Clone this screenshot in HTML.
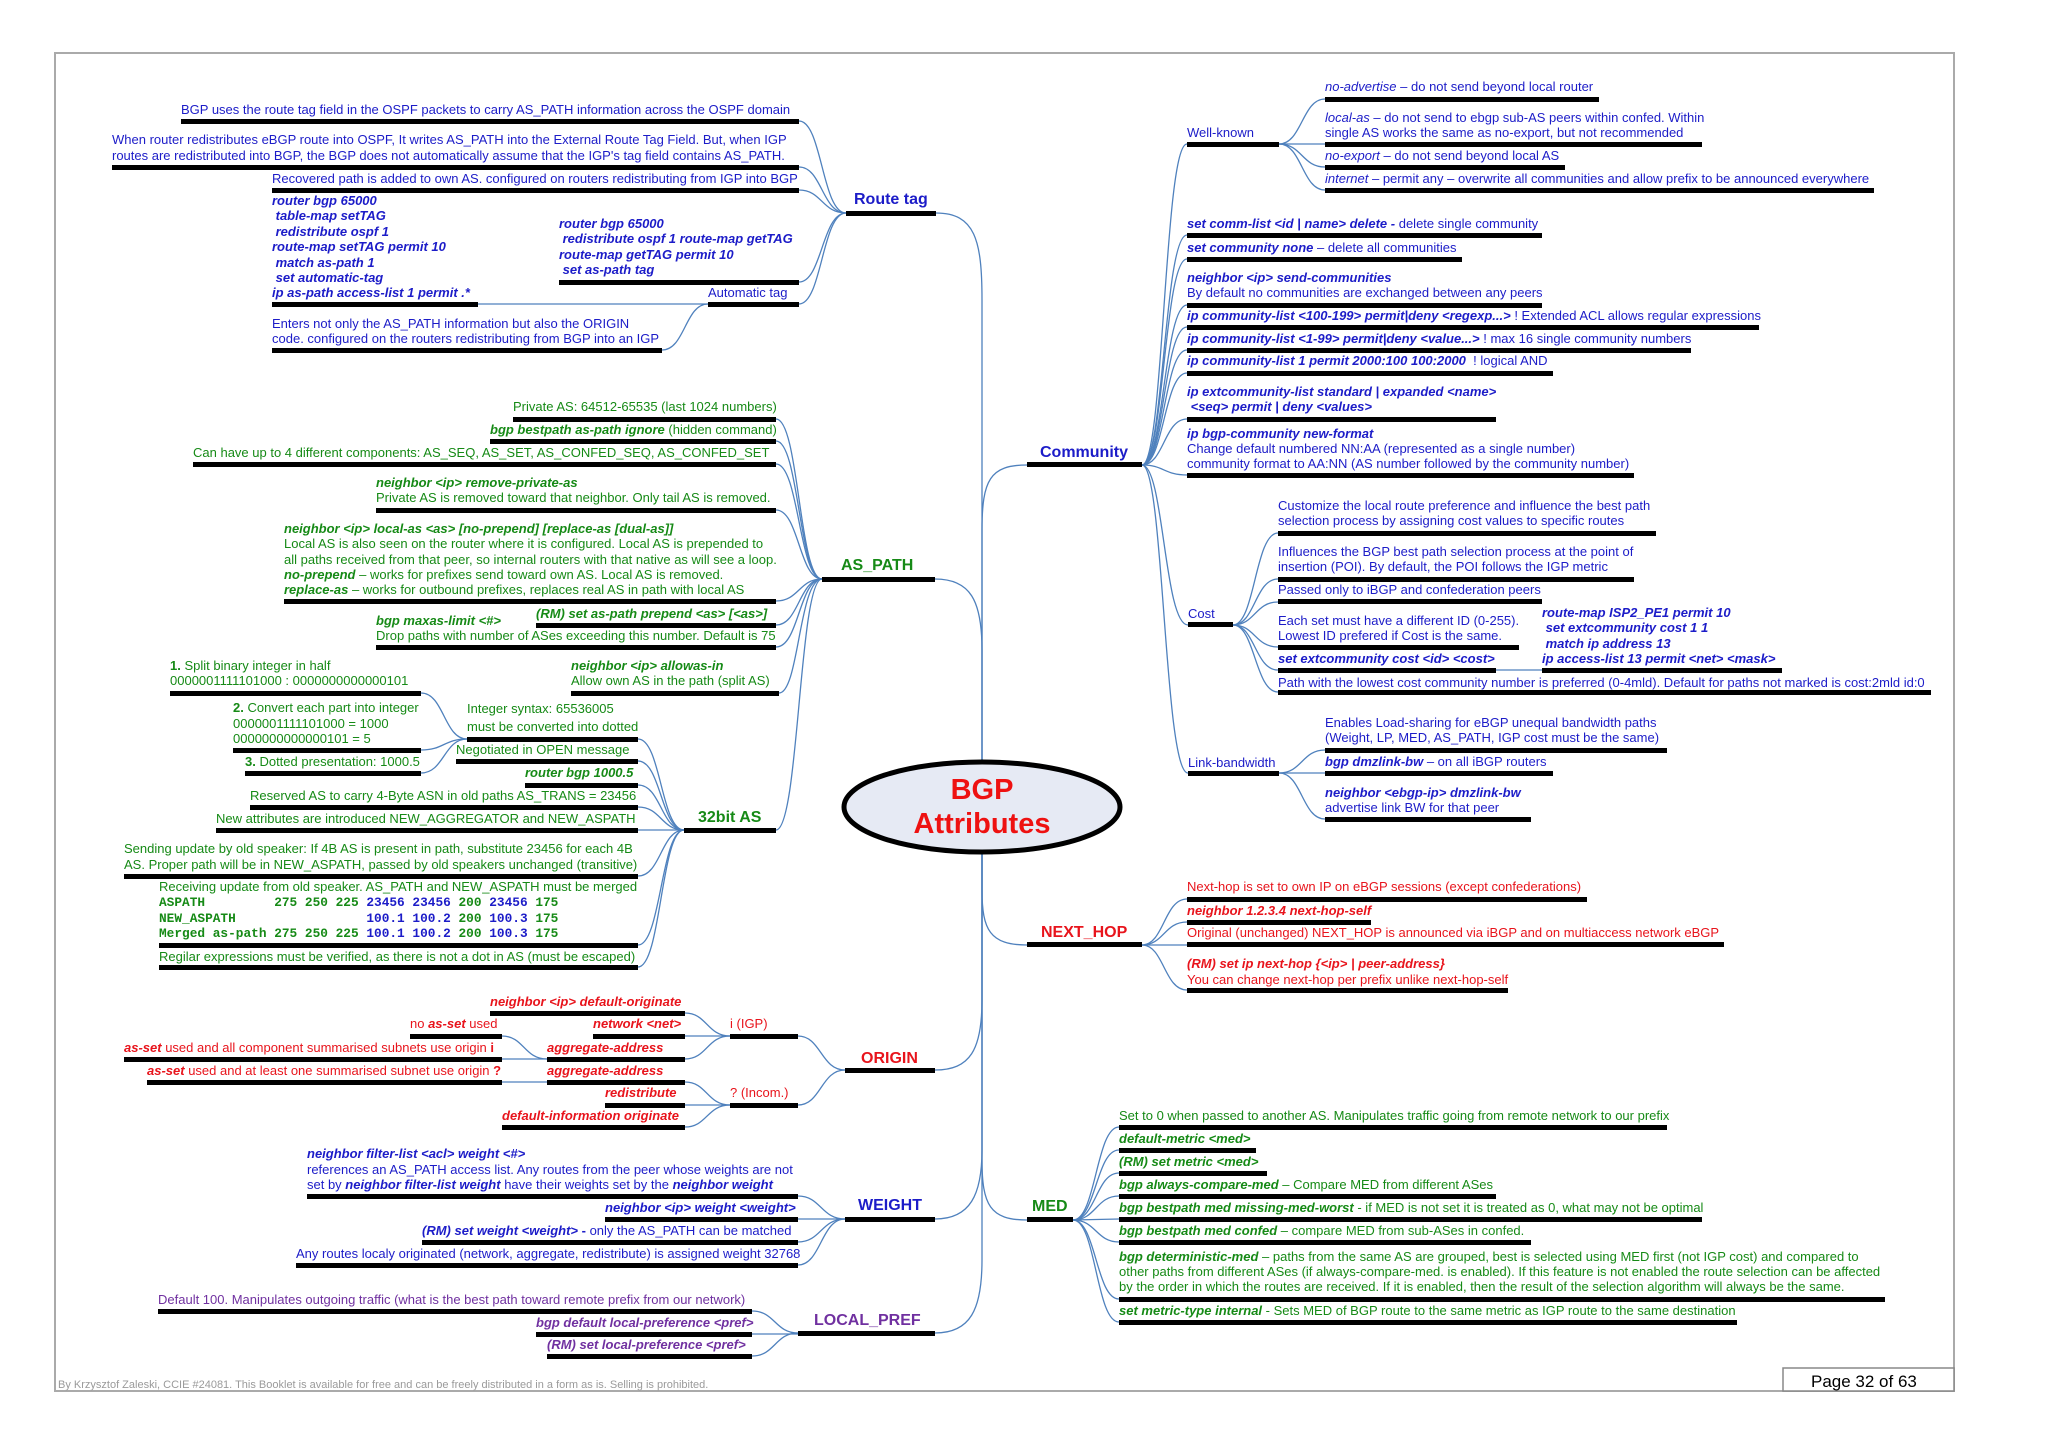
<!DOCTYPE html>
<html><head><meta charset="utf-8"><style>
html,body{margin:0;padding:0;background:#fff;}
svg{display:block;}
text{font-family:"Liberation Sans",Arial,sans-serif;font-size:13px;white-space:pre;}
.b{fill:#1c1cc8}.g{fill:#168a16}.r{fill:#e8141c}.p{fill:#7030a0}
.bi{font-weight:bold;font-style:italic}
.h{font-weight:bold;font-size:16px}
.m{font-family:"Liberation Mono",monospace;font-size:12.8px;font-weight:bold}
path{fill:none;stroke:#4f81bd;stroke-width:1.3}
rect.k{fill:#000}
</style></head><body>
<svg width="2048" height="1447" viewBox="0 0 2048 1447" xmlns="http://www.w3.org/2000/svg" xml:space="preserve">
<rect x="55" y="53" width="1899" height="1338" fill="none" stroke="#aaa" stroke-width="2"/>

<!-- trunk -->
<path d="M936 213 C975 213 982 240 982 300 L982 761"/>
<path d="M935 579 C970 579 982 600 982 650 L982 761"/>
<path d="M982 761 L982 530 C982 480 990 465 1027 465"/>
<path d="M982 853 L982 890 C982 930 990 945 1027 945"/>
<path d="M982 853 L982 1160 C982 1205 990 1220 1027 1220"/>
<path d="M935 1070 C970 1070 982 1050 982 1000 L982 853"/>
<path d="M935 1219 C970 1219 982 1195 982 1150 L982 853"/>
<path d="M935 1333 C970 1333 982 1310 982 1260 L982 853"/>

<ellipse cx="982" cy="807" rx="138" ry="45" fill="#e6eaf4" stroke="#000" stroke-width="5"/>
<text x="982" y="799" text-anchor="middle" style="font-size:29px;font-weight:bold;fill:#ee1111">BGP</text>
<text x="982" y="833" text-anchor="middle" style="font-size:29px;font-weight:bold;fill:#ee1111">Attributes</text>

<!-- ROUTE TAG -->
<g class="b">
<text x="181" y="114" class="b">BGP uses the route tag field in the OSPF packets to carry AS_PATH information across the OSPF domain</text>
<text x="112" y="144" class="b">When router redistributes eBGP route into OSPF, It writes AS_PATH into the External Route Tag Field. But, when IGP</text>
<text x="112" y="160" class="b">routes are redistributed into BGP, the BGP does not automatically assume that the IGP's tag field contains AS_PATH.</text>
<text x="272" y="183" class="b">Recovered path is added to own AS. configured on routers redistributing from IGP into BGP</text>
<text x="272" y="205" class="b bi">router bgp 65000</text>
<text x="272" y="220" class="b bi"> table-map setTAG</text>
<text x="272" y="236" class="b bi"> redistribute ospf 1</text>
<text x="272" y="251" class="b bi">route-map setTAG permit 10</text>
<text x="272" y="267" class="b bi"> match as-path 1</text>
<text x="272" y="282" class="b bi"> set automatic-tag</text>
<text x="272" y="297" class="b bi">ip as-path access-list 1 permit .*</text>
<text x="559" y="228" class="b bi">router bgp 65000</text>
<text x="559" y="243" class="b bi"> redistribute ospf 1 route-map getTAG</text>
<text x="559" y="259" class="b bi">route-map getTAG permit 10</text>
<text x="559" y="274" class="b bi"> set as-path tag</text>
<text x="708" y="297" class="b">Automatic tag</text>
<text x="272" y="328" class="b">Enters not only the AS_PATH information but also the ORIGIN</text>
<text x="272" y="343" class="b">code. configured on the routers redistributing from BGP into an IGP</text>
<text x="854" y="204" class="b h">Route tag</text>
</g>
<rect class="k" x="181" y="119" width="618" height="5"/>
<rect class="k" x="112" y="165" width="687" height="5"/>
<rect class="k" x="272" y="188" width="527" height="5"/>
<rect class="k" x="272" y="302" width="206" height="5"/>
<rect class="k" x="559" y="280" width="240" height="5"/>
<rect class="k" x="708" y="302" width="91" height="5"/>
<rect class="k" x="272" y="348" width="390" height="5"/>
<rect class="k" x="846" y="211" width="90" height="5"/>
<path d="M478 304 L708 304"/>
<path d="M662 350 C685 350 685 304 708 304"/>
<path d="M799 121 C822 121 822 213 846 213"/>
<path d="M799 167 C822 167 822 213 846 213"/>
<path d="M799 190 C822 190 822 213 846 213"/>
<path d="M799 282 C822 282 822 213 846 213"/>
<path d="M799 304 C822 304 822 213 846 213"/>

<!-- AS_PATH -->
<text x="513" y="411" class="g">Private AS: 64512-65535 (last 1024 numbers)</text>
<text x="490" y="434" class="g"><tspan class="bi">bgp bestpath as-path ignore</tspan> (hidden command)</text>
<text x="193" y="457" class="g">Can have up to 4 different components: AS_SEQ, AS_SET, AS_CONFED_SEQ, AS_CONFED_SET</text>
<text x="376" y="487" class="g bi">neighbor &lt;ip&gt; remove-private-as</text>
<text x="376" y="502" class="g">Private AS is removed toward that neighbor. Only tail AS is removed.</text>
<text x="284" y="533" class="g bi">neighbor &lt;ip&gt; local-as &lt;as&gt; [no-prepend] [replace-as [dual-as]]</text>
<text x="284" y="548" class="g">Local AS is also seen on the router where it is configured. Local AS is prepended to</text>
<text x="284" y="564" class="g">all paths received from that peer, so internal routers with that native as will see a loop.</text>
<text x="284" y="579" class="g"><tspan class="bi">no-prepend</tspan> – works for prefixes send toward own AS. Local AS is removed.</text>
<text x="284" y="594" class="g"><tspan class="bi">replace-as</tspan> – works for outbound prefixes, replaces real AS in path with local AS</text>
<text x="536" y="618" class="g bi">(RM) set as-path prepend &lt;as&gt; [&lt;as&gt;]</text>
<text x="376" y="625" class="g bi">bgp maxas-limit &lt;#&gt;</text>
<text x="376" y="640" class="g">Drop paths with number of ASes exceeding this number. Default is 75</text>
<text x="571" y="670" class="g bi">neighbor &lt;ip&gt; allowas-in</text>
<text x="571" y="685" class="g">Allow own AS in the path (split AS)</text>
<text x="841" y="570" class="g h">AS_PATH</text>
<rect class="k" x="513" y="417" width="263" height="5"/>
<rect class="k" x="490" y="439" width="286" height="5"/>
<rect class="k" x="193" y="462" width="583" height="5"/>
<rect class="k" x="376" y="508" width="400" height="5"/>
<rect class="k" x="284" y="599" width="492" height="5"/>
<rect class="k" x="536" y="623" width="240" height="5"/>
<rect class="k" x="376" y="645" width="400" height="5"/>
<rect class="k" x="571" y="691" width="208" height="5"/>
<rect class="k" x="822" y="577" width="113" height="5"/>
<path d="M776 419 C799 419 799 579 822 579"/>
<path d="M776 441 C799 441 799 579 822 579"/>
<path d="M776 464 C799 464 799 579 822 579"/>
<path d="M776 510 C799 510 799 579 822 579"/>
<path d="M776 601 C799 601 799 579 822 579"/>
<path d="M776 625 C799 625 799 579 822 579"/>
<path d="M776 647 C799 647 799 579 822 579"/>
<path d="M779 693 C799 693 799 579 822 579"/>
<path d="M776 830 C799 830 799 579 822 579"/>

<!-- 32bit AS -->
<text x="170" y="670" class="g"><tspan font-weight="bold">1.</tspan> Split binary integer in half</text>
<text x="170" y="685" class="g">0000001111101000 : 0000000000000101</text>
<text x="233" y="712" class="g"><tspan font-weight="bold">2.</tspan> Convert each part into integer</text>
<text x="233" y="728" class="g">0000001111101000 = 1000</text>
<text x="233" y="743" class="g">0000000000000101 = 5</text>
<text x="245" y="766" class="g"><tspan font-weight="bold">3.</tspan> Dotted presentation: 1000.5</text>
<text x="467" y="713" class="g">Integer syntax: 65536005</text>
<text x="467" y="731" class="g">must be converted into dotted</text>
<text x="456" y="754" class="g">Negotiated in OPEN message</text>
<text x="525" y="777" class="g bi">router bgp 1000.5</text>
<text x="250" y="800" class="g">Reserved AS to carry 4-Byte ASN in old paths AS_TRANS = 23456</text>
<text x="216" y="823" class="g">New attributes are introduced NEW_AGGREGATOR and NEW_ASPATH</text>
<text x="124" y="853" class="g">Sending update by old speaker: If 4B AS is present in path, substitute 23456 for each 4B</text>
<text x="124" y="869" class="g">AS. Proper path will be in NEW_ASPATH, passed by old speakers unchanged (transitive)</text>
<text x="159" y="891" class="g">Receiving update from old speaker. AS_PATH and NEW_ASPATH must be merged</text>
<text x="159" y="906" class="m g">ASPATH         275 250 225 <tspan class="b">23456 23456</tspan> 200 <tspan class="b">23456</tspan> 175</text>
<text x="159" y="922" class="m g">NEW_ASPATH                 <tspan class="b">100.1 100.2</tspan> 200 <tspan class="b">100.3</tspan> 175</text>
<text x="159" y="937" class="m g">Merged as-path 275 250 225 <tspan class="b">100.1 100.2</tspan> 200 <tspan class="b">100.3</tspan> 175</text>
<text x="159" y="961" class="g">Regilar expressions must be verified, as there is not a dot in AS (must be escaped)</text>
<text x="698" y="822" class="g h">32bit AS</text>
<rect class="k" x="170" y="691" width="251" height="5"/>
<rect class="k" x="233" y="748" width="188" height="5"/>
<rect class="k" x="245" y="771" width="176" height="5"/>
<rect class="k" x="467" y="737" width="171" height="5"/>
<rect class="k" x="456" y="759" width="182" height="5"/>
<rect class="k" x="525" y="783" width="113" height="5"/>
<rect class="k" x="250" y="805" width="388" height="5"/>
<rect class="k" x="216" y="828" width="422" height="5"/>
<rect class="k" x="124" y="874" width="514" height="5"/>
<rect class="k" x="159" y="943" width="479" height="5"/>
<rect class="k" x="159" y="965" width="479" height="5"/>
<rect class="k" x="684" y="828" width="92" height="5"/>
<path d="M421 693 C444 693 444 739 467 739"/>
<path d="M421 750 C444 750 444 739 467 739"/>
<path d="M421 773 C444 773 444 739 467 739"/>
<path d="M638 739 C661 739 661 830 684 830"/>
<path d="M638 761 C661 761 661 830 684 830"/>
<path d="M638 785 C661 785 661 830 684 830"/>
<path d="M638 807 C661 807 661 830 684 830"/>
<path d="M638 830 L684 830"/>
<path d="M638 876 C661 876 661 830 684 830"/>
<path d="M638 945 C661 945 661 830 684 830"/>
<path d="M638 967 C661 967 661 830 684 830"/>

<!-- ORIGIN -->
<text x="490" y="1006" class="r bi">neighbor &lt;ip&gt; default-originate</text>
<text x="593" y="1028" class="r bi">network &lt;net&gt;</text>
<text x="547" y="1052" class="r bi">aggregate-address</text>
<text x="547" y="1075" class="r bi">aggregate-address</text>
<text x="605" y="1097" class="r bi">redistribute</text>
<text x="502" y="1120" class="r bi">default-information originate</text>
<text x="410" y="1028" class="r">no <tspan class="bi">as-set</tspan> used</text>
<text x="124" y="1052" class="r"><tspan class="bi">as-set</tspan> used and all component summarised subnets use origin <tspan font-weight="bold">i</tspan></text>
<text x="147" y="1075" class="r"><tspan class="bi">as-set</tspan> used and at least one summarised subnet use origin <tspan font-weight="bold">?</tspan></text>
<text x="730" y="1028" class="r">i (IGP)</text>
<text x="730" y="1097" class="r">? (Incom.)</text>
<text x="861" y="1063" class="r h">ORIGIN</text>
<rect class="k" x="490" y="1011" width="195" height="5"/>
<rect class="k" x="593" y="1034" width="92" height="5"/>
<rect class="k" x="547" y="1057" width="138" height="5"/>
<rect class="k" x="547" y="1080" width="138" height="5"/>
<rect class="k" x="605" y="1103" width="80" height="5"/>
<rect class="k" x="502" y="1125" width="183" height="5"/>
<rect class="k" x="410" y="1034" width="92" height="5"/>
<rect class="k" x="124" y="1057" width="378" height="5"/>
<rect class="k" x="147" y="1080" width="355" height="5"/>
<rect class="k" x="730" y="1034" width="68" height="5"/>
<rect class="k" x="730" y="1103" width="68" height="5"/>
<rect class="k" x="845" y="1068" width="90" height="5"/>
<path d="M502 1036 C524 1036 524 1059 547 1059"/>
<path d="M502 1059 L547 1059"/>
<path d="M502 1082 L547 1082"/>
<path d="M685 1013 C707 1013 707 1036 730 1036"/>
<path d="M685 1036 L730 1036"/>
<path d="M685 1059 C707 1059 707 1036 730 1036"/>
<path d="M685 1082 C707 1082 707 1105 730 1105"/>
<path d="M685 1105 L730 1105"/>
<path d="M685 1127 C707 1127 707 1105 730 1105"/>
<path d="M798 1036 C821 1036 821 1070 845 1070"/>
<path d="M798 1105 C821 1105 821 1070 845 1070"/>

<!-- WEIGHT -->
<text x="307" y="1158" class="b bi">neighbor filter-list &lt;acl&gt; weight &lt;#&gt;</text>
<text x="307" y="1174" class="b">references an AS_PATH access list. Any routes from the peer whose weights are not</text>
<text x="307" y="1189" class="b">set by <tspan class="bi">neighbor filter-list weight</tspan> have their weights set by the <tspan class="bi">neighbor weight</tspan></text>
<text x="605" y="1212" class="b bi">neighbor &lt;ip&gt; weight &lt;weight&gt;</text>
<text x="422" y="1235" class="b"><tspan class="bi">(RM) set weight &lt;weight&gt;</tspan><tspan font-weight="bold"> - </tspan>only the AS_PATH can be matched</text>
<text x="296" y="1258" class="b">Any routes localy originated (network, aggregate, redistribute) is assigned weight 32768</text>
<text x="858" y="1210" class="b h">WEIGHT</text>
<rect class="k" x="307" y="1194" width="491" height="5"/>
<rect class="k" x="605" y="1217" width="193" height="5"/>
<rect class="k" x="422" y="1240" width="376" height="5"/>
<rect class="k" x="296" y="1263" width="502" height="5"/>
<rect class="k" x="845" y="1217" width="90" height="5"/>
<path d="M798 1196 C821 1196 821 1219 845 1219"/>
<path d="M798 1219 L845 1219"/>
<path d="M798 1242 C821 1242 821 1219 845 1219"/>
<path d="M798 1265 C821 1265 821 1219 845 1219"/>

<!-- LOCAL_PREF -->
<text x="158" y="1304" class="p">Default 100. Manipulates outgoing traffic (what is the best path toward remote prefix from our network)</text>
<text x="536" y="1327" class="p bi">bgp default local-preference &lt;pref&gt;</text>
<text x="547" y="1349" class="p bi">(RM) set local-preference &lt;pref&gt;</text>
<text x="814" y="1325" class="p h">LOCAL_PREF</text>
<rect class="k" x="158" y="1309" width="594" height="5"/>
<rect class="k" x="536" y="1332" width="216" height="5"/>
<rect class="k" x="547" y="1354" width="205" height="5"/>
<rect class="k" x="798" y="1331" width="137" height="5"/>
<path d="M752 1311 C775 1311 775 1333 798 1333"/>
<path d="M752 1334 L798 1334"/>
<path d="M752 1356 C775 1356 775 1333 798 1333"/>

<!-- COMMUNITY -->
<text x="1040" y="457" class="b h">Community</text>
<rect class="k" x="1027" y="462" width="115" height="5"/>
<text x="1187" y="137" class="b">Well-known</text>
<rect class="k" x="1187" y="142" width="92" height="5"/>
<text x="1325" y="91" class="b"><tspan font-style="italic">no-advertise</tspan> – do not send beyond local router</text>
<text x="1325" y="122" class="b"><tspan font-style="italic">local-as</tspan> – do not send to ebgp sub-AS peers within confed. Within</text>
<text x="1325" y="137" class="b">single AS works the same as no-export, but not recommended</text>
<text x="1325" y="160" class="b"><tspan font-style="italic">no-export</tspan> – do not send beyond local AS</text>
<text x="1325" y="183" class="b"><tspan font-style="italic">internet</tspan> – permit any – overwrite all communities and allow prefix to be announced everywhere</text>
<rect class="k" x="1325" y="97" width="274" height="5"/>
<rect class="k" x="1325" y="142" width="377" height="5"/>
<rect class="k" x="1325" y="165" width="240" height="5"/>
<rect class="k" x="1325" y="188" width="549" height="5"/>
<path d="M1279 144 C1302 144 1302 99 1325 99"/>
<path d="M1279 144 L1325 144"/>
<path d="M1279 144 C1302 144 1302 167 1325 167"/>
<path d="M1279 144 C1302 144 1302 190 1325 190"/>

<text x="1187" y="228" class="b"><tspan class="bi">set comm-list &lt;id | name&gt; delete -</tspan> delete single community</text>
<text x="1187" y="252" class="b"><tspan class="bi">set community none</tspan> – delete all communities</text>
<text x="1187" y="282" class="b bi">neighbor &lt;ip&gt; send-communities</text>
<text x="1187" y="297" class="b">By default no communities are exchanged between any peers</text>
<text x="1187" y="320" class="b"><tspan class="bi">ip community-list &lt;100-199&gt; permit|deny &lt;regexp...&gt;</tspan> ! Extended ACL allows regular expressions</text>
<text x="1187" y="343" class="b"><tspan class="bi">ip community-list &lt;1-99&gt; permit|deny &lt;value...&gt;</tspan> ! max 16 single community numbers</text>
<text x="1187" y="365" class="b"><tspan class="bi">ip community-list 1 permit 2000:100 100:2000</tspan>  ! logical AND</text>
<text x="1187" y="396" class="b bi">ip extcommunity-list standard | expanded &lt;name&gt;</text>
<text x="1187" y="411" class="b bi"> &lt;seq&gt; permit | deny &lt;values&gt;</text>
<text x="1187" y="438" class="b bi">ip bgp-community new-format</text>
<text x="1187" y="453" class="b">Change default numbered NN:AA (represented as a single number)</text>
<text x="1187" y="468" class="b">community format to AA:NN (AS number followed by the community number)</text>
<rect class="k" x="1187" y="233" width="355" height="5"/>
<rect class="k" x="1187" y="257" width="275" height="5"/>
<rect class="k" x="1187" y="303" width="355" height="5"/>
<rect class="k" x="1187" y="325" width="572" height="5"/>
<rect class="k" x="1187" y="348" width="504" height="5"/>
<rect class="k" x="1187" y="371" width="366" height="5"/>
<rect class="k" x="1187" y="417" width="309" height="5"/>
<rect class="k" x="1187" y="473" width="447" height="5"/>
<path d="M1142 465 C1164 465 1164 144 1187 144"/>
<path d="M1142 465 C1164 465 1164 235 1187 235"/>
<path d="M1142 465 C1164 465 1164 259 1187 259"/>
<path d="M1142 465 C1164 465 1164 305 1187 305"/>
<path d="M1142 465 C1164 465 1164 327 1187 327"/>
<path d="M1142 465 C1164 465 1164 350 1187 350"/>
<path d="M1142 465 C1164 465 1164 373 1187 373"/>
<path d="M1142 465 C1164 465 1164 419 1187 419"/>
<path d="M1142 465 C1164 465 1164 475 1187 475"/>
<path d="M1142 465 C1164 465 1164 625 1188 625"/>
<path d="M1142 465 C1164 465 1164 773 1188 773"/>

<!-- Cost -->
<text x="1188" y="618" class="b">Cost</text>
<rect class="k" x="1188" y="622" width="45" height="5"/>
<text x="1278" y="510" class="b">Customize the local route preference and influence the best path</text>
<text x="1278" y="525" class="b">selection process by assigning cost values to specific routes</text>
<text x="1278" y="556" class="b">Influences the BGP best path selection process at the point of</text>
<text x="1278" y="571" class="b">insertion (POI). By default, the POI follows the IGP metric</text>
<text x="1278" y="594" class="b">Passed only to iBGP and confederation peers</text>
<text x="1278" y="625" class="b">Each set must have a different ID (0-255).</text>
<text x="1278" y="640" class="b">Lowest ID prefered if Cost is the same.</text>
<text x="1278" y="663" class="b bi">set extcommunity cost &lt;id&gt; &lt;cost&gt;</text>
<text x="1542" y="617" class="b bi">route-map ISP2_PE1 permit 10</text>
<text x="1542" y="632" class="b bi"> set extcommunity cost 1 1</text>
<text x="1542" y="648" class="b bi"> match ip address 13</text>
<text x="1542" y="663" class="b bi">ip access-list 13 permit &lt;net&gt; &lt;mask&gt;</text>
<text x="1278" y="687" class="b">Path with the lowest cost community number is preferred (0-4mld). Default for paths not marked is cost:2mld id:0</text>
<rect class="k" x="1278" y="531" width="378" height="5"/>
<rect class="k" x="1278" y="577" width="356" height="5"/>
<rect class="k" x="1278" y="599" width="264" height="5"/>
<rect class="k" x="1278" y="645" width="241" height="5"/>
<rect class="k" x="1278" y="668" width="218" height="5"/>
<rect class="k" x="1542" y="668" width="240" height="5"/>
<rect class="k" x="1278" y="690" width="653" height="5"/>
<path d="M1496 670 L1542 670"/>
<path d="M1233 625 C1255 625 1255 533 1278 533"/>
<path d="M1233 625 C1255 625 1255 579 1278 579"/>
<path d="M1233 625 C1255 625 1255 602 1278 602"/>
<path d="M1233 625 C1255 625 1255 647 1278 647"/>
<path d="M1233 625 C1255 625 1255 670 1278 670"/>
<path d="M1233 625 C1255 625 1255 692 1278 692"/>

<!-- Link-bandwidth -->
<text x="1188" y="767" class="b">Link-bandwidth</text>
<rect class="k" x="1188" y="771" width="91" height="5"/>
<text x="1325" y="727" class="b">Enables Load-sharing for eBGP unequal bandwidth paths</text>
<text x="1325" y="742" class="b">(Weight, LP, MED, AS_PATH, IGP cost must be the same)</text>
<text x="1325" y="766" class="b"><tspan class="bi">bgp dmzlink-bw</tspan> – on all iBGP routers</text>
<text x="1325" y="797" class="b bi">neighbor &lt;ebgp-ip&gt; dmzlink-bw</text>
<text x="1325" y="812" class="b">advertise link BW for that peer</text>
<rect class="k" x="1325" y="748" width="342" height="5"/>
<rect class="k" x="1325" y="771" width="228" height="5"/>
<rect class="k" x="1325" y="817" width="206" height="5"/>
<path d="M1279 773 C1302 773 1302 750 1325 750"/>
<path d="M1279 773 L1325 773"/>
<path d="M1279 773 C1302 773 1302 819 1325 819"/>

<!-- NEXT_HOP -->
<text x="1041" y="937" class="r h">NEXT_HOP</text>
<rect class="k" x="1027" y="942" width="115" height="5"/>
<text x="1187" y="891" class="r">Next-hop is set to own IP on eBGP sessions (except confederations)</text>
<text x="1187" y="915" class="r bi">neighbor 1.2.3.4 next-hop-self</text>
<text x="1187" y="937" class="r">Original (unchanged) NEXT_HOP is announced via iBGP and on multiaccess network eBGP</text>
<text x="1187" y="968" class="r bi">(RM) set ip next-hop {&lt;ip&gt; | peer-address}</text>
<text x="1187" y="984" class="r">You can change next-hop per prefix unlike next-hop-self</text>
<rect class="k" x="1187" y="897" width="400" height="5"/>
<rect class="k" x="1187" y="920" width="184" height="5"/>
<rect class="k" x="1187" y="942" width="537" height="5"/>
<rect class="k" x="1187" y="988" width="321" height="5"/>
<path d="M1142 945 C1164 945 1164 899 1187 899"/>
<path d="M1142 945 C1164 945 1164 922 1187 922"/>
<path d="M1142 945 L1187 945"/>
<path d="M1142 945 C1164 945 1164 990 1187 990"/>

<!-- MED -->
<text x="1032" y="1211" class="g h">MED</text>
<rect class="k" x="1027" y="1217" width="46" height="5"/>
<text x="1119" y="1120" class="g">Set to 0 when passed to another AS. Manipulates traffic going from remote network to our prefix</text>
<text x="1119" y="1143" class="g bi">default-metric &lt;med&gt;</text>
<text x="1119" y="1166" class="g bi">(RM) set metric &lt;med&gt;</text>
<text x="1119" y="1189" class="g"><tspan class="bi">bgp always-compare-med</tspan> – Compare MED from different ASes</text>
<text x="1119" y="1212" class="g"><tspan class="bi">bgp bestpath med missing-med-worst</tspan> - if MED is not set it is treated as 0, what may not be optimal</text>
<text x="1119" y="1235" class="g"><tspan class="bi">bgp bestpath med confed</tspan> – compare MED from sub-ASes in confed.</text>
<text x="1119" y="1261" class="g"><tspan class="bi">bgp deterministic-med</tspan> – paths from the same AS are grouped, best is selected using MED first (not IGP cost) and compared to</text>
<text x="1119" y="1276" class="g">other paths from different ASes (if always-compare-med. is enabled). If this feature is not enabled the route selection can be affected</text>
<text x="1119" y="1291" class="g">by the order in which the routes are received. If it is enabled, then the result of the selection algorithm will always be the same.</text>
<text x="1119" y="1315" class="g"><tspan class="bi">set metric-type internal</tspan> - Sets MED of BGP route to the same metric as IGP route to the same destination</text>
<rect class="k" x="1119" y="1125" width="548" height="5"/>
<rect class="k" x="1119" y="1148" width="137" height="5"/>
<rect class="k" x="1119" y="1171" width="148" height="5"/>
<rect class="k" x="1119" y="1194" width="377" height="5"/>
<rect class="k" x="1119" y="1217" width="583" height="5"/>
<rect class="k" x="1119" y="1240" width="412" height="5"/>
<rect class="k" x="1119" y="1297" width="766" height="5"/>
<rect class="k" x="1119" y="1320" width="618" height="5"/>
<path d="M1073 1220 C1096 1220 1096 1127 1119 1127"/>
<path d="M1073 1220 C1096 1220 1096 1150 1119 1150"/>
<path d="M1073 1220 C1096 1220 1096 1173 1119 1173"/>
<path d="M1073 1220 C1096 1220 1096 1196 1119 1196"/>
<path d="M1073 1220 L1119 1219"/>
<path d="M1073 1220 C1096 1220 1096 1242 1119 1242"/>
<path d="M1073 1220 C1096 1220 1096 1299 1119 1299"/>
<path d="M1073 1220 C1096 1220 1096 1322 1119 1322"/>

<!-- footer -->
<text x="58" y="1388" style="font-size:11px;fill:#9a9a9a">By Krzysztof Zaleski, CCIE #24081. This Booklet is available for free and can be freely distributed in a form as is. Selling is prohibited.</text>
<rect x="1783" y="1368" width="171" height="23" fill="#fff" stroke="#888" stroke-width="1.5"/>
<text x="1811" y="1387" style="font-size:17px;fill:#000">Page 32 of 63</text>
</svg>
</body></html>
